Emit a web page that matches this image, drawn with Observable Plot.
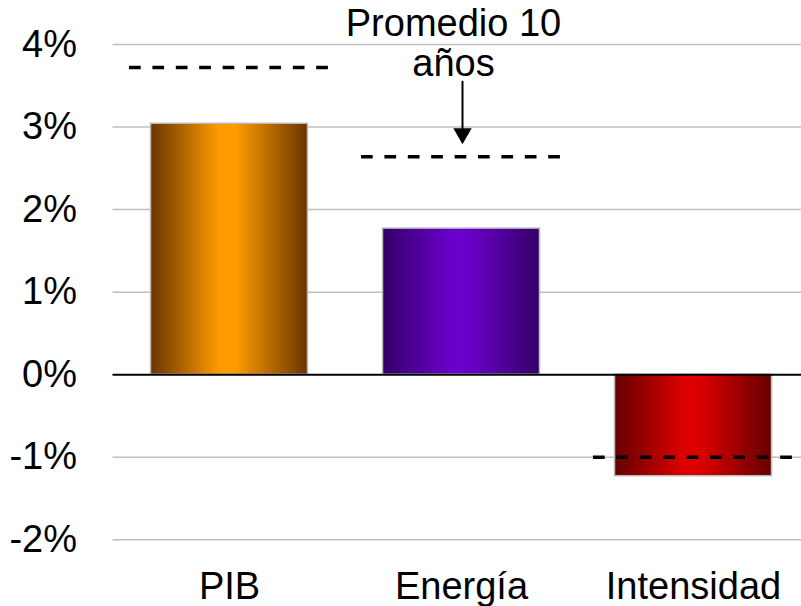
<!DOCTYPE html>
<html>
<head>
<meta charset="utf-8">
<script src="https://cdn.jsdelivr.net/npm/d3@7"></script>
<script src="https://cdn.jsdelivr.net/npm/@observablehq/plot@0.6"></script>
<style>
  html, body { margin: 0; padding: 0; background: #fff; }
  #chart svg { display: block; }
</style>
</head>
<body>
<div id="chart"></div>
<script>
// Data
const categories = ["PIB", "Energía", "Intensidad"];
const values = [3.04, 1.77, -1.23];          // crecimiento (%)
const averages = [3.72, 2.64, -1.00];        // promedio 10 años (%)
const yTicks = [-2, -1, 0, 1, 2, 3, 4];
const gradIds = ["gPIB", "gEnergia", "gIntensidad"];
const gradEdge = ["#6a3400", "#330066", "#660000"];
const gradCenter = ["#ff9c00", "#6a00cc", "#dd0000"];
// annotation
const annotLines = ["Promedio 10", "años"];
const annotY = [4.25, 3.77];
const arrowFrom = 3.56;
const arrowTo = 2.92;

const bars = categories.map((c, i) => ({cat: c, value: values[i], grad: gradIds[i]}));
const avgs = categories.map((c, i) => ({cat: c, value: averages[i]}));
const annot = annotLines.map((t, i) => ({cat: "Energía", text: t, y: annotY[i]}));

const FONT = "'Liberation Sans', Arial, Helvetica, sans-serif";

const plot = Plot.plot({
  width: 801,
  height: 606,
  marginLeft: 112.5,
  marginRight: 0,
  marginTop: 44,
  marginBottom: 66.7,
  style: {fontFamily: FONT, fontSize: "38px", background: "#fff", color: "#000", overflow: "visible"},
  x: {type: "band", domain: categories, range: [112.5, 809.5], padding: 0, label: null},
  y: {domain: [-2, 4], label: null},
  marks: [
    Plot.ruleY(yTicks.filter(d => d !== 0), {stroke: "#c0c0c0", strokeWidth: 1.5}),
    ...bars.map((b, i) => Plot.barY([b], {
      x: "cat", y: "value",
      fill: `url(#${gradIds[i]})`,
      stroke: "#bdbdbd", strokeWidth: 1.5,
      insetLeft: 37.5, insetRight: 37.5
    })),
    Plot.ruleY([0], {stroke: "#000", strokeWidth: 2}),
    Plot.tickY(avgs, {
      x: "cat", y: "value",
      stroke: "#000", strokeWidth: 3.5, strokeDasharray: "11.7,11.7",
      insetLeft: 16, insetRight: 16
    }),
    Plot.link([{cat: "Energía"}], {
      x1: "cat", x2: "cat", y1: () => arrowFrom, y2: () => arrowTo,
      stroke: "#000", strokeWidth: 2, dx: 1
    }),
    Plot.dot([{cat: "Energía", y: arrowTo}], {
      x: "cat", y: "y", symbol: "triangle", r: 6.8, rotate: 180,
      fill: "#000", stroke: "none", dx: 1
    }),
    Plot.text(annot, {
      x: "cat", y: "y", text: "text", dx: -8,
      fontSize: 38, fill: "#000", textAnchor: "middle"
    }),
    Plot.axisY({ticks: yTicks, tickFormat: d => d + "%", tickSize: 0, tickPadding: 36, fontSize: 38, label: null}),
    Plot.axisX({tickSize: 0, tickPadding: 32, fontSize: 38, label: null})
  ]
});

// gradient defs
const ns = "http://www.w3.org/2000/svg";
const defs = document.createElementNS(ns, "defs");
gradIds.forEach((id, i) => {
  const g = document.createElementNS(ns, "linearGradient");
  g.setAttribute("id", id);
  g.setAttribute("x1", "0"); g.setAttribute("x2", "1");
  g.setAttribute("y1", "0"); g.setAttribute("y2", "0");
  [[0, gradEdge[i]], [0.44, gradCenter[i]], [0.54, gradCenter[i]], [1, gradEdge[i]]].forEach(([o, c]) => {
    const s = document.createElementNS(ns, "stop");
    s.setAttribute("offset", o);
    s.setAttribute("stop-color", c);
    g.appendChild(s);
  });
  defs.appendChild(g);
});
plot.insertBefore(defs, plot.firstChild);

document.getElementById("chart").appendChild(plot);
</script>
</body>
</html>
